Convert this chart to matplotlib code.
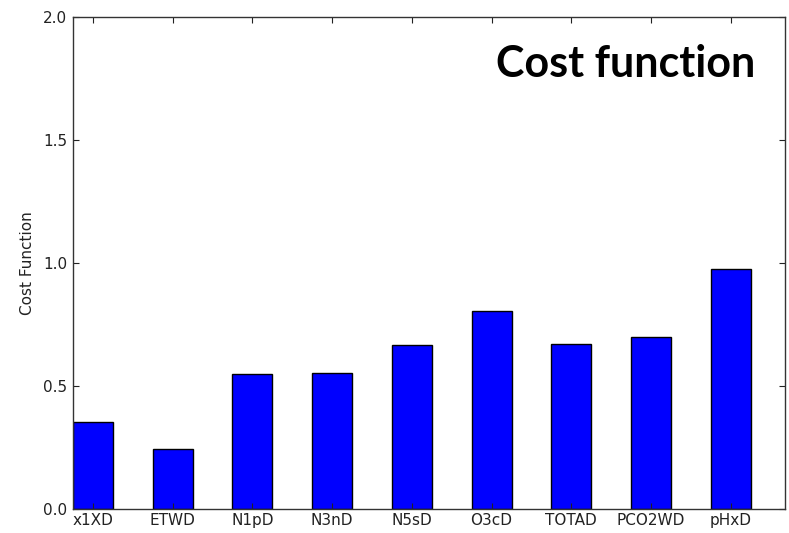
import matplotlib
matplotlib.use("Agg")
import matplotlib.pyplot as plt

plt.rcParams["font.family"] = ["DejaVu Sans"]

# Cost function per diagnosed variable
variables = ["x1XD", "ETWD", "N1pD", "N3nD", "N5sD", "O3cD", "TOTAD", "PCO2WD", "pHxD"]
cost = [0.352, 0.243, 0.549, 0.551, 0.667, 0.805, 0.672, 0.698, 0.976]

fig = plt.figure(figsize=(7.89, 5.33), dpi=100)
ax = fig.add_axes([73 / 789, 24 / 533, 712 / 789, 492 / 533])

positions = list(range(len(variables)))
ax.bar(positions, cost, width=0.5, align="edge", color="#0000ff",
       edgecolor="black", linewidth=1.0)

ax.set_xlim(0, 8.93)
ax.set_ylim(0, 2.0)
ax.set_xticks([p + 0.25 for p in positions])
ax.set_xticklabels(variables)
ax.set_yticks([0.0, 0.5, 1.0, 1.5, 2.0])
ax.set_yticklabels(["0.0", "0.5", "1.0", "1.5", "2.0"])

ax.tick_params(direction="in", top=True, right=True, length=4, width=0.8,
               labelsize=11, colors="#222222", pad=4)
ax.tick_params(axis="x", pad=3)
for s in ax.spines.values():
    s.set_color("#333333")
    s.set_linewidth(1.0)

ax.set_ylabel("Cost Function", fontsize=11, color="#222222", labelpad=6)

fig.text(755 / 789, (533 - 77) / 533, "Cost function", ha="right",
         va="baseline", fontsize=31, fontweight="bold", family="Lato",
         color="black")

fig.savefig("out.png", dpi=100)
